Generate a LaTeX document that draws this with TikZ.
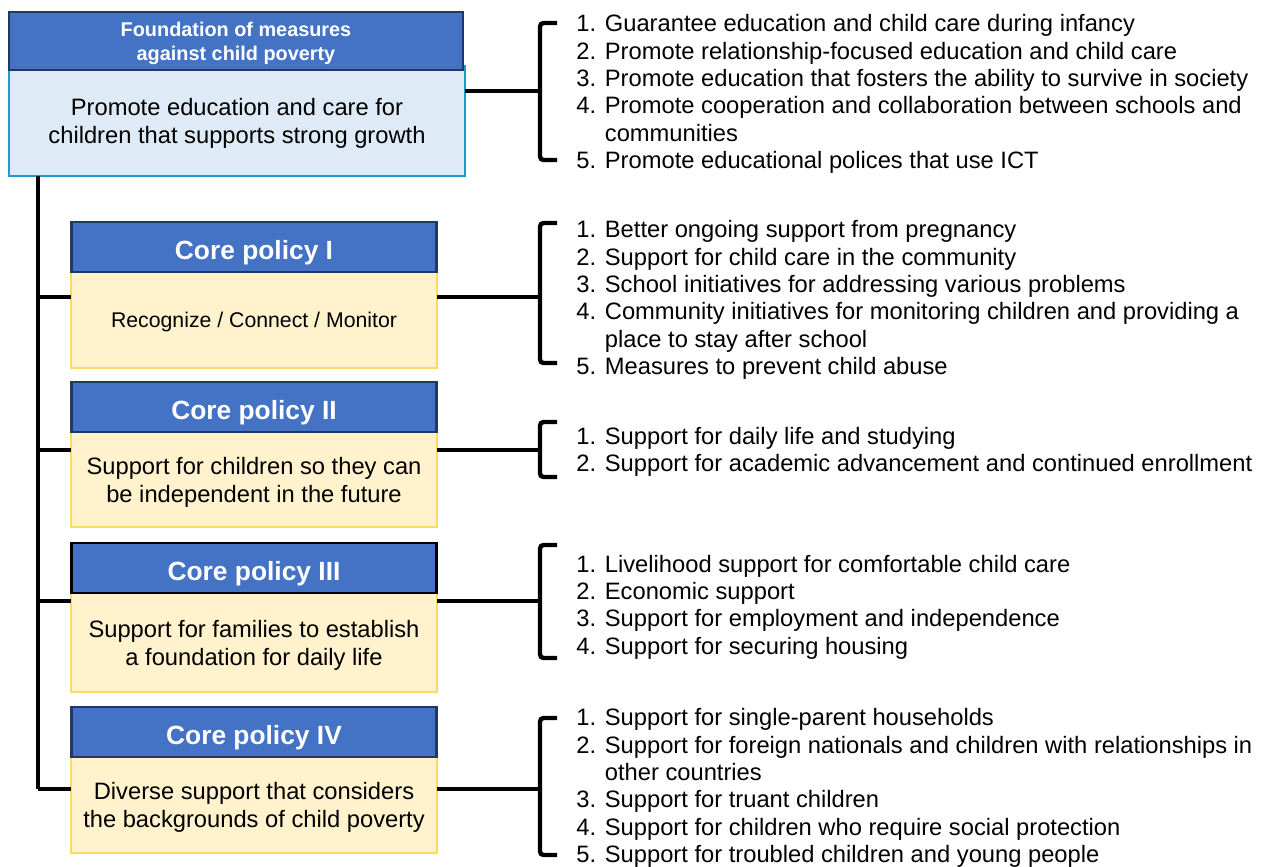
\documentclass[tikz,border=0pt]{standalone}
\usepackage{fontspec}
\setmainfont{Liberation Sans}
\usetikzlibrary{positioning}

\definecolor{headblue}{HTML}{4472C4}
\definecolor{headline}{HTML}{203864}
\definecolor{foundfill}{HTML}{DEEBF7}
\definecolor{foundline}{HTML}{1A9CD0}
\definecolor{corefill}{HTML}{FFF2CC}
\definecolor{coreline}{HTML}{FFD966}

\begin{document}
\begin{tikzpicture}[
  x=0.02cm, y=-0.02cm,
  found/.style={rectangle, draw=foundline, fill=foundfill, line width=1.6pt, outer sep=0pt,
    minimum width=9.12cm, minimum height=2.2cm, align=center, text depth=0pt,
    font=\fontsize{13.5}{15.9}\selectfont},
  foundhead/.style={rectangle, draw=headline, fill=headblue, line width=1.2pt, outer sep=0pt,
    minimum width=9.08cm, minimum height=1.16cm, align=center, text=white, text depth=-4pt,
    font=\bfseries\fontsize{11.3}{13.6}\selectfont},
  core/.style={rectangle, draw=coreline, fill=corefill, line width=1.6pt, outer sep=0pt,
    minimum width=7.32cm, align=center, text depth=0pt, font=\fontsize{13.5}{15.9}\selectfont},
  corehead/.style={rectangle, draw=headline, fill=headblue, line width=1.2pt, outer sep=0pt,
    minimum width=7.3cm, minimum height=1cm, text=white, text height=14pt, text depth=0pt,
    font=\bfseries\fontsize{15}{18}\selectfont},
  items/.style={anchor=west, inner sep=0pt, align=left,
    font=\fontsize{13.5}{15.6}\selectfont},
  link/.style={line width=2.5pt},
  bracket/.style={line width=2.5pt, rounded corners=2pt}
]
\useasboundingbox (0,0) rectangle (1277,866);

% foundation box
\node[found] (fbody) at (237,121) {Promote education and care for\\children that supports strong growth};
\node[foundhead, above=-0.08cm of fbody, xshift=-0.02cm] (fhead) {Foundation of measures\\against child poverty};

% core policies
\node[core, minimum height=1.92cm] (body1) at (254,320) {\fontsize{12.1}{14.5}\selectfont Recognize / Connect / Monitor};
\node[corehead, above=0pt of body1] (head1) {Core policy I};
\node[core, minimum height=1.9cm] (body2) at (254,479.5) {Support for children so they can\\be independent in the future};
\node[corehead, above=0pt of body2] (head2) {Core policy II};
\node[core, minimum height=1.98cm] (body3) at (254,642.5) {Support for families to establish\\a foundation for daily life};
\node[corehead, draw=black, above=0pt of body3] (head3) {Core policy III};
\node[core, minimum height=1.92cm] (body4) at (254,805) {Diverse support that considers\\the backgrounds of child poverty};
\node[corehead, above=0pt of body4] (head4) {Core policy IV};

% measure lists
\node[items] (list0) at (576,94) {1. Guarantee education and child care during infancy\\
  2. Promote relationship-focused education and child care\\
  3. Promote education that fosters the ability to survive in society\\
  4. Promote cooperation and collaboration between schools and\\
  \hphantom{4. }communities\\
  5. Promote educational polices that use ICT};
\node[items] (list1) at (576,300) {1. Better ongoing support from pregnancy\\
  2. Support for child care in the community\\
  3. School initiatives for addressing various problems\\
  4. Community initiatives for monitoring children and providing a\\
  \hphantom{4. }place to stay after school\\
  5. Measures to prevent child abuse};
\node[items] (list2) at (576,452) {1. Support for daily life and studying\\
  2. Support for academic advancement and continued enrollment};
\node[items] (list3) at (576,607) {1. Livelihood support for comfortable child care\\
  2. Economic support\\
  3. Support for employment and independence\\
  4. Support for securing housing};
\node[items] (list4) at (576,788) {1. Support for single-parent households\\
  2. Support for foreign nationals and children with relationships in\\
  \hphantom{2. }other countries\\
  3. Support for truant children\\
  4. Support for children who require social protection\\
  5. Support for troubled children and young people};

% trunk on the left
\coordinate (j1) at (38,297);
\coordinate (j2) at (38,450);
\coordinate (j3) at (38,601);
\coordinate (j4) at (38,789);
\draw[link] (fbody.south -| j1) -- (j4);
\draw[link] (j1) -- (j1 -| body1.west);
\draw[link] (j2) -- (j2 -| body2.west);
\draw[link] (j3) -- (j3 -| body3.west);
\draw[link] (j4) -- (j4 -| body4.west);

% brackets on the right
\coordinate (bk0) at (540,91);
\coordinate (bk1) at (540,297);
\coordinate (bk2) at (540,450);
\coordinate (bk3) at (540,601);
\coordinate (bk4) at (540,789);
\draw[link] (fbody.east |- bk0) -- (bk0);
\draw[link] (body1.east |- bk1) -- (bk1);
\draw[link] (body2.east |- bk2) -- (bk2);
\draw[link] (body3.east |- bk3) -- (bk3);
\draw[link] (body4.east |- bk4) -- (bk4);
\draw[bracket] (bk0) ++(17,-68) -| ++(-17,137) -- ++(17,0);
\draw[bracket] (bk1) ++(17,-74) -| ++(-17,140) -- ++(17,0);
\draw[bracket] (bk2) ++(17,-28) -| ++(-17,55) -- ++(17,0);
\draw[bracket] (bk3) ++(17,-56) -| ++(-17,113) -- ++(17,0);
\draw[bracket] (bk4) ++(17,-71) -| ++(-17,137) -- ++(17,0);
\end{tikzpicture}
\end{document}
